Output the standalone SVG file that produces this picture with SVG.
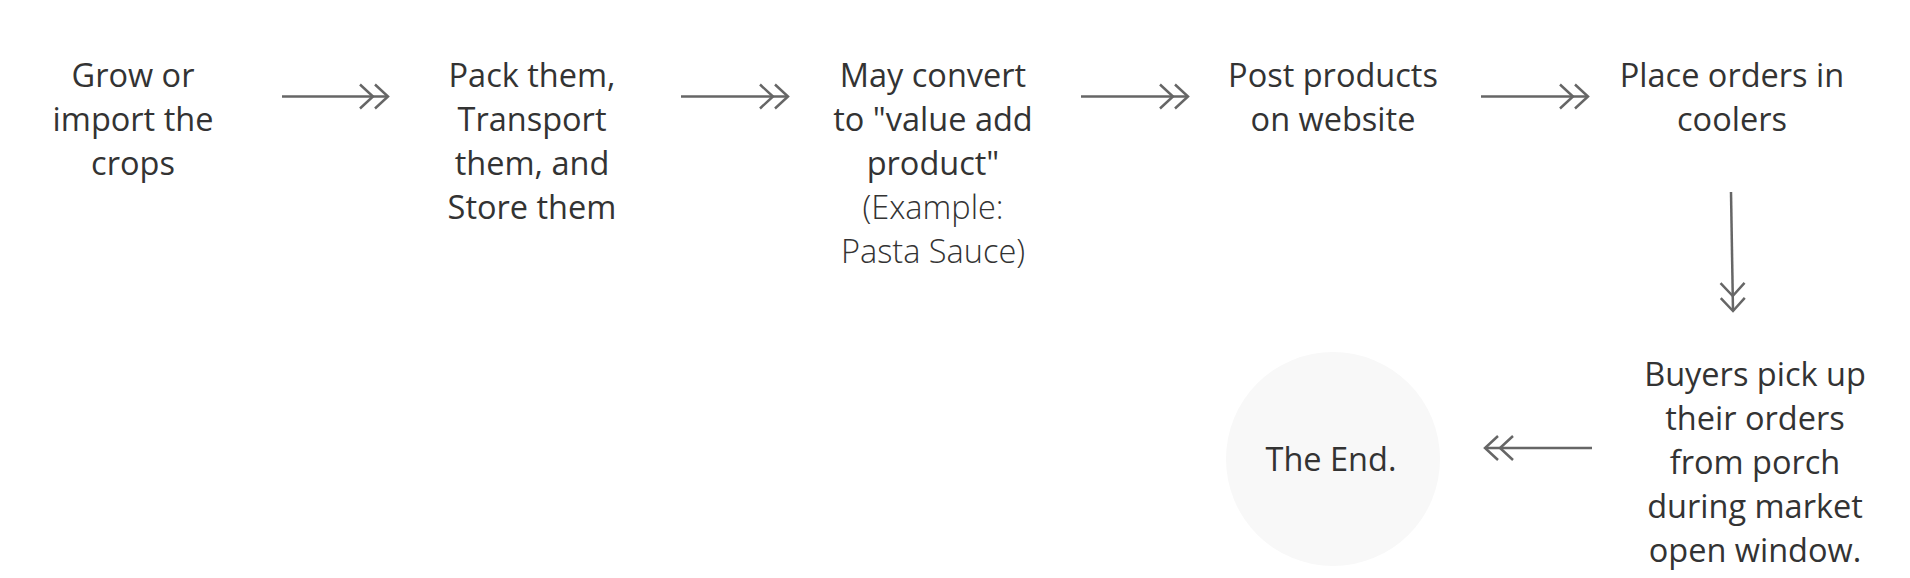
<svg xmlns="http://www.w3.org/2000/svg" width="1910" height="578" viewBox="0 0 1910 578">
<style>
  .t { font-family: "Open Sans", "Noto Sans", "Liberation Sans", sans-serif; font-size: 32.5px; fill: #333333; text-anchor: middle; }
  .light { font-weight: 300; }
  .conn { stroke: #666666; stroke-width: 2.5; fill: none; }
</style>
<defs>
  <marker id="dbl" markerUnits="userSpaceOnUse" viewBox="-32 -15 34 30" markerWidth="34" markerHeight="30" refX="0" refY="0" orient="auto" overflow="visible">
    <path d="M -13 -12 L 0 0 L -13 12 M -28 -12 L -15 0 L -28 12" fill="none" stroke="#666666" stroke-width="2.5"/>
  </marker>
</defs>
<rect width="1910" height="578" fill="#ffffff"/>
<g id="connectors">
  <line class="conn" x1="282" y1="96.5" x2="388" y2="96.5" marker-end="url(#dbl)"/>
  <line class="conn" x1="681" y1="96.5" x2="788" y2="96.5" marker-end="url(#dbl)"/>
  <line class="conn" x1="1081" y1="96.5" x2="1188" y2="96.5" marker-end="url(#dbl)"/>
  <line class="conn" x1="1481" y1="96.5" x2="1588" y2="96.5" marker-end="url(#dbl)"/>
  <line class="conn" x1="1731" y1="192" x2="1733" y2="311" marker-end="url(#dbl)"/>
  <line class="conn" x1="1592" y1="448" x2="1485" y2="448" marker-end="url(#dbl)"/>
</g>
<g id="node1">
  <text class="t" x="133" y="87">Grow or</text>
  <text class="t" x="133" y="131">import the</text>
  <text class="t" x="133" y="175">crops</text>
</g>
<g id="node2">
  <text class="t" x="532" y="87">Pack them,</text>
  <text class="t" x="532" y="131">Transport</text>
  <text class="t" x="532" y="175">them, and</text>
  <text class="t" x="532" y="219">Store them</text>
</g>
<g id="node3">
  <text class="t" x="933" y="87">May convert</text>
  <text class="t" x="933" y="131">to "value add</text>
  <text class="t" x="933" y="175">product"</text>
  <text class="t light" x="933" y="219">(Example:</text>
  <text class="t light" x="933" y="263">Pasta Sauce)</text>
</g>
<g id="node4">
  <text class="t" x="1333" y="87">Post products</text>
  <text class="t" x="1333" y="131">on website</text>
</g>
<g id="node5">
  <text class="t" x="1732" y="87">Place orders in</text>
  <text class="t" x="1732" y="131">coolers</text>
</g>
<g id="node6">
  <text class="t" x="1755" y="386">Buyers pick up</text>
  <text class="t" x="1755" y="430">their orders</text>
  <text class="t" x="1755" y="474">from porch</text>
  <text class="t" x="1755" y="518">during market</text>
  <text class="t" x="1755" y="562">open window.</text>
</g>
<g id="node7">
  <circle cx="1333" cy="459" r="107" fill="#f8f8f8"/>
  <text class="t" x="1331" y="471">The End.</text>
</g>
</svg>
